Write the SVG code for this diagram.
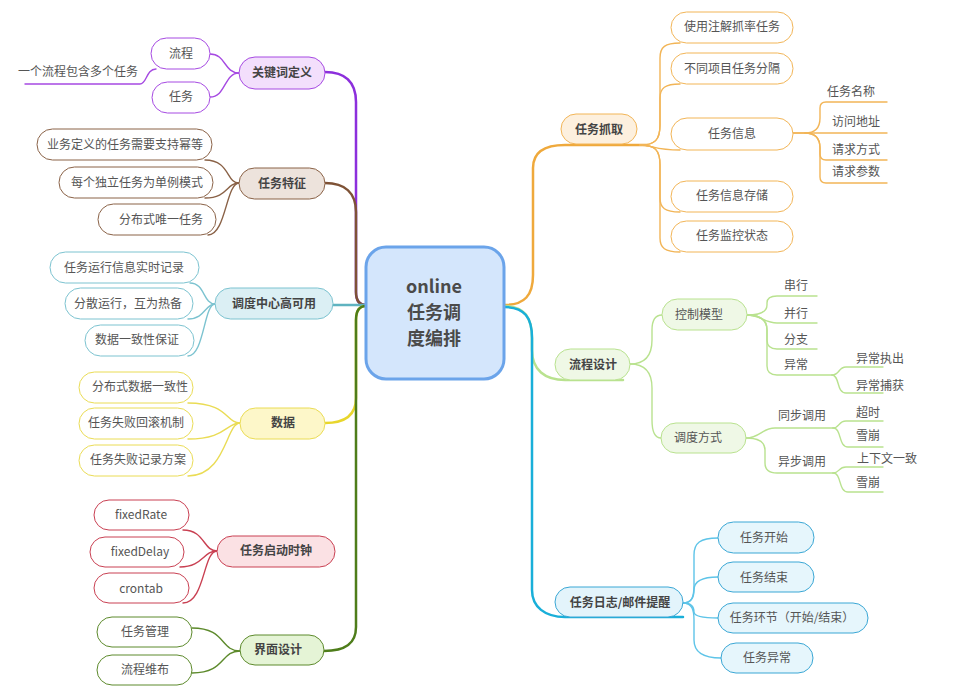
<svg xmlns="http://www.w3.org/2000/svg" width="960" height="696" viewBox="0 0 960 696">
<style>
text{font-family:"Noto Sans CJK SC","Noto Sans",sans-serif;font-size:12px;fill:#555;text-anchor:middle}
.b{font-weight:bold;fill:#444}
.c{font-size:18px;font-weight:bold;fill:#4a4a4a}
.l{text-anchor:start}
path{fill:none;stroke-linecap:round}
.m{stroke-width:2.5}
.s{stroke-width:1.4}
</style>
<rect width="960" height="696" fill="#fff"/>
<g id="connectors">
<!-- main left -->
<path class="m" stroke="#8c2fdc" d="M325,72 C345,72 356,82 356,102 L356,292 Q356,305 366,305"/>
<path class="m" stroke="#7e5236" d="M325,183 C345,183 356,193 356,212 L356,292 Q356,305 366,305"/>
<path class="m" stroke="#5fb3c0" d="M333,305 L366,305"/>
<path class="m" stroke="#e8d62c" d="M366,306 Q356,306 356,320 L356,398 C356,415 345,423 325,423"/>
<path class="m" stroke="#4e7d1a" d="M366,306 Q356,306 356,320 L356,627 C356,644 345,651 324,651"/>
<!-- main right -->
<path class="m" stroke="#efa93c" d="M504,305 C525,305 533,295 533,275 L533,168 C533,152 545,145 565,145 L647,145"/>
<path class="m" stroke="#b9e28f" d="M504,306 C525,306 532,318 532,338 L532,350 C532,370 545,380 565,380 L623,380"/>
<path class="m" stroke="#19afd9" d="M504,307 C525,307 532,318 532,338 L532,590 C532,607 545,617 565,617 L683,617"/>
<!-- 关键词定义 -->
<g class="s" stroke="#a64ae2">
<path d="M239,73 C224,73 226,54 210,54"/>
<path d="M239,73 C224,73 226,97 210,97"/>
<path d="M25,84 L140,84 C147,84 146,69 156,69"/>
</g>
<!-- 任务特征 -->
<g class="s" stroke="#8a6247">
<path d="M239,183 C226,183 230,160 205,160"/>
<path d="M239,183 C226,183 228,198 205,198"/>
<path d="M239,183 C226,183 226,235 208,235"/>
</g>
<!-- 调度中心高可用 -->
<g class="s" stroke="#7cc3d0">
<path d="M215,304 C203,304 205,283 190,283"/>
<path d="M215,304 C205,304 205,319 188,319"/>
<path d="M215,304 C204,304 204,356 188,356"/>
</g>
<!-- 数据 -->
<g class="s" stroke="#eadc55">
<path d="M240,423 C226,423 228,403 188,403"/>
<path d="M240,423 C226,423 226,439 188,439"/>
<path d="M240,423 C226,423 226,476 188,476"/>
</g>
<!-- 任务启动时钟 -->
<g class="s" stroke="#c94052">
<path d="M217,551 C203,551 205,530 183,530"/>
<path d="M217,551 C203,551 203,567 180,567"/>
<path d="M217,551 C203,551 205,603 183,603"/>
</g>
<!-- 界面设计 -->
<g class="s" stroke="#5d8a2c">
<path d="M240,651 C220,651 226,628 192,628"/>
<path d="M240,651 C220,651 226,673 192,673"/>
</g>
<!-- 任务抓取 -->
<g class="s" stroke="#f2b557">
<path d="M640,145 C655,145 660,140 660,125 L660,58 C660,47 665,43 680,43"/>
<path d="M640,145 C655,145 660,140 660,125 L660,98 C660,88 665,84 680,84"/>
<path d="M640,145 C652,145 655,150 680,150"/>
<path d="M640,145 C655,145 660,150 660,165 L660,198 C660,208 665,212 680,212"/>
<path d="M640,145 C655,145 660,150 660,165 L660,238 C660,248 665,252 680,252"/>
<path d="M793,133 L805,133 Q820,133 820,118 L820,108 Q820,102 826,102 L887,102"/>
<path d="M793,133 L887,133"/>
<path d="M805,133 Q820,133 820,148 L820,154 Q820,160 826,160 L887,160"/>
<path d="M805,133 Q820,133 820,148 L820,177 Q820,183 826,183 L887,183"/>
</g>
<!-- 流程设计 -->
<g class="s" stroke="#b9e28f">
<path d="M630,364 C645,364 652,355 652,340 L652,330 C652,320 655,315 662,315"/>
<path d="M630,364 C645,364 652,372 652,388 L652,420 C652,432 655,438 661,438"/>
<path d="M747,315 Q767,315 767,305 L767,303 Q767,296 777,296 L817,296"/>
<path d="M747,315 C760,315 765,323 777,323 L817,323"/>
<path d="M747,315 Q767,315 767,330 L767,340 Q767,349 777,349 L817,349"/>
<path d="M747,315 Q767,315 767,330 L767,366 Q767,375 777,375 L832,375"/>
<path d="M832,375 C840,375 838,367 846,367 L883,367"/>
<path d="M832,375 C840,375 836,393 846,393 L883,393"/>
<path d="M746,438 C760,438 762,428 775,428 L833,428"/>
<path d="M746,438 Q765,438 765,450 L765,463 Q765,473 777,473 L833,473"/>
<path d="M833,428 C840,428 838,421 846,421 L883,421"/>
<path d="M833,428 C842,428 838,447 848,447 L883,447"/>
<path d="M833,473 C840,473 838,467 846,467 L883,467"/>
<path d="M833,473 C842,473 838,492 848,492 L883,492"/>
</g>
<!-- 任务日志 -->
<g class="s" stroke="#5ec4e8">
<path d="M683,603 C692,603 694,597 694,585 L694,555 C694,543 700,538 718,538"/>
<path d="M683,603 C692,603 694,596 694,590 C694,582 702,577 718,577"/>
<path d="M683,603 C692,603 694,608 694,612 C694,616 702,618 718,618"/>
<path d="M683,603 C692,603 694,610 694,620 L694,640 C694,652 702,658 721,658"/>
</g>
</g>

<g id="center">
<rect x="366" y="247" width="138" height="132" rx="20" fill="#d4e6fc" stroke="#6ba4ea" stroke-width="3"/>
<text class="c" x="434" y="292.5">online</text>
<text class="c" x="434" y="318.7">任务调</text>
<text class="c" x="434" y="344.9">度编排</text>
</g>

<g id="n-keyword">
<rect x="239" y="57" width="86" height="32" rx="16" fill="#f3dffc" stroke="#a64ae2"/>
<text class="b" x="282" y="77">关键词定义</text>
</g>
<g id="n-liucheng"><rect x="151" y="38" width="59" height="31" rx="15.5" fill="#fff" stroke="#a64ae2"/><text x="181" y="58">流程</text></g>
<g id="n-renwu"><rect x="152" y="82" width="58" height="31" rx="15.5" fill="#fff" stroke="#a64ae2"/><text x="181" y="101">任务</text></g>
<g id="n-liucheng-desc"><text x="78" y="76">一个流程包含多个任务</text></g>

<g id="n-tezheng">
<rect x="239" y="168" width="86" height="31" rx="15.5" fill="#ede3dc" stroke="#8a6247"/>
<text class="b" x="282" y="188">任务特征</text>
</g>
<g id="n-tz1"><rect x="37" y="129" width="175" height="31" rx="15.5" fill="#fff" stroke="#8a6247"/><text x="125" y="149">业务定义的任务需要支持幂等</text></g>
<g id="n-tz2"><rect x="59" y="167" width="154" height="31" rx="15.5" fill="#fff" stroke="#8a6247"/><text x="137" y="187">每个独立任务为单例模式</text></g>
<g id="n-tz3"><rect x="98" y="204" width="118" height="31" rx="15.5" fill="#fff" stroke="#8a6247"/><text x="161" y="224">分布式唯一任务</text></g>

<g id="n-ha">
<rect x="215" y="288" width="118" height="31" rx="15.5" fill="#dbeff4" stroke="#7cc3d0"/>
<text class="b" x="274" y="308">调度中心高可用</text>
</g>
<g id="n-ha1"><rect x="50" y="252" width="149" height="31" rx="15.5" fill="#fff" stroke="#7cc3d0"/><text x="124" y="272">任务运行信息实时记录</text></g>
<g id="n-ha2"><rect x="65" y="288" width="128" height="31" rx="15.5" fill="#fff" stroke="#7cc3d0"/><text x="128" y="308">分散运行，互为热备</text></g>
<g id="n-ha3"><rect x="85" y="325" width="109" height="31" rx="15.5" fill="#fff" stroke="#7cc3d0"/><text x="137" y="344">数据一致性保证</text></g>

<g id="n-data">
<rect x="240" y="408" width="85" height="31" rx="15.5" fill="#fdf7c9" stroke="#eadc55"/>
<text class="b" x="283" y="427">数据</text>
</g>
<g id="n-d1"><rect x="79" y="372" width="114" height="31" rx="15.5" fill="#fff" stroke="#eadc55"/><text x="140" y="391">分布式数据一致性</text></g>
<g id="n-d2"><rect x="79" y="408" width="114" height="31" rx="15.5" fill="#fff" stroke="#eadc55"/><text x="136" y="427">任务失败回滚机制</text></g>
<g id="n-d3"><rect x="79" y="445" width="114" height="31" rx="15.5" fill="#fff" stroke="#eadc55"/><text x="138" y="464">任务失败记录方案</text></g>

<g id="n-clock">
<rect x="217" y="536" width="118" height="31" rx="15.5" fill="#fbe1e4" stroke="#c94052"/>
<text class="b" x="276" y="555">任务启动时钟</text>
</g>
<g id="n-c1"><rect x="94" y="500" width="95" height="30" rx="15" fill="#fff" stroke="#c94052"/><text x="141" y="519">fixedRate</text></g>
<g id="n-c2"><rect x="90" y="537" width="94" height="30" rx="15" fill="#fff" stroke="#c94052"/><text x="140" y="556">fixedDelay</text></g>
<g id="n-c3"><rect x="94" y="573" width="95" height="30" rx="15" fill="#fff" stroke="#c94052"/><text x="141" y="593">crontab</text></g>

<g id="n-ui">
<rect x="240" y="635" width="84" height="30" rx="15" fill="#e5f4d6" stroke="#5d8a2c"/>
<text class="b" x="278" y="654">界面设计</text>
</g>
<g id="n-ui1"><rect x="97" y="617" width="95" height="30" rx="15" fill="#fff" stroke="#5d8a2c"/><text x="145" y="636">任务管理</text></g>
<g id="n-ui2"><rect x="97" y="655" width="95" height="30" rx="15" fill="#fff" stroke="#5d8a2c"/><text x="145" y="674">流程维布</text></g>

<g id="n-grab">
<rect x="561" y="114" width="76" height="30" rx="15" fill="#fdf0de" stroke="#f2b557"/>
<text class="b" x="599" y="134">任务抓取</text>
</g>
<g id="n-g1"><rect x="671" y="12" width="122" height="31" rx="15.5" fill="#fff" stroke="#f2b557"/><text x="732" y="31">使用注解抓率任务</text></g>
<g id="n-g2"><rect x="671" y="53" width="122" height="31" rx="15.5" fill="#fff" stroke="#f2b557"/><text x="732" y="73">不同项目任务分隔</text></g>
<g id="n-g3"><rect x="671" y="118" width="122" height="32" rx="16" fill="#fff" stroke="#f2b557"/><text x="732" y="138">任务信息</text></g>
<g id="n-g4"><rect x="671" y="181" width="122" height="31" rx="15.5" fill="#fff" stroke="#f2b557"/><text x="732" y="200">任务信息存储</text></g>
<g id="n-g5"><rect x="671" y="221" width="122" height="31" rx="15.5" fill="#fff" stroke="#f2b557"/><text x="732" y="240">任务监控状态</text></g>
<g id="n-g31"><text class="l" x="827" y="96">任务名称</text></g>
<g id="n-g32"><text class="l" x="832" y="126">访问地址</text></g>
<g id="n-g33"><text class="l" x="832" y="154">请求方式</text></g>
<g id="n-g34"><text class="l" x="832" y="176">请求参数</text></g>

<g id="n-flow">
<rect x="555" y="349" width="75" height="31" rx="15.5" fill="#eff8e6" stroke="#b9e28f"/>
<text class="b" x="593" y="369">流程设计</text>
</g>
<g id="n-f1"><rect x="662" y="299" width="85" height="31" rx="15.5" fill="#eff8e6" stroke="#b9e28f"/><text x="699" y="319">控制模型</text></g>
<g id="n-f2"><rect x="661" y="423" width="85" height="30" rx="15" fill="#eff8e6" stroke="#b9e28f"/><text x="698" y="442">调度方式</text></g>
<g id="n-f11"><text x="796" y="290">串行</text></g>
<g id="n-f12"><text x="796" y="318">并行</text></g>
<g id="n-f13"><text x="796" y="344">分支</text></g>
<g id="n-f14"><text x="796" y="369">异常</text></g>
<g id="n-f141"><text x="880" y="363">异常执出</text></g>
<g id="n-f142"><text x="880" y="390">异常捕获</text></g>
<g id="n-f21"><text x="802" y="420">同步调用</text></g>
<g id="n-f22"><text x="802" y="466">异步调用</text></g>
<g id="n-f211"><text x="868" y="417">超时</text></g>
<g id="n-f212"><text x="868" y="440">雪崩</text></g>
<g id="n-f221"><text x="887" y="463">上下文一致</text></g>
<g id="n-f222"><text x="868" y="487">雪崩</text></g>

<g id="n-log">
<rect x="555" y="587" width="128" height="30" rx="15" fill="#e3f4fb" stroke="#3aa7d5"/>
<text class="b" x="620" y="607">任务日志/邮件提醒</text>
</g>
<g id="n-l1"><rect x="718" y="522" width="96" height="31" rx="15.5" fill="#e6f6fc" stroke="#3aa7d5"/><text x="764" y="542">任务开始</text></g>
<g id="n-l2"><rect x="718" y="562" width="96" height="30" rx="15" fill="#e6f6fc" stroke="#3aa7d5"/><text x="764" y="582">任务结束</text></g>
<g id="n-l3"><rect x="718" y="603" width="150" height="30" rx="15" fill="#e6f6fc" stroke="#3aa7d5"/><text x="792" y="622">任务环节（开始/结束）</text></g>
<g id="n-l4"><rect x="721" y="643" width="92" height="30" rx="15" fill="#e6f6fc" stroke="#3aa7d5"/><text x="767" y="662">任务异常</text></g>
</svg>
